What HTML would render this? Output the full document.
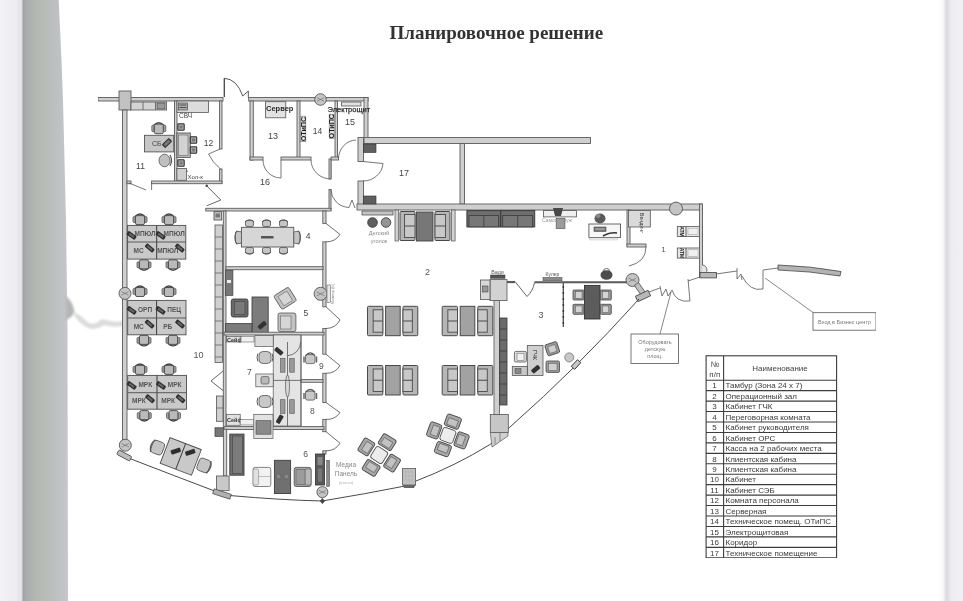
<!DOCTYPE html>
<html><head><meta charset="utf-8"><style>
html,body{margin:0;padding:0;}
body{width:963px;height:601px;overflow:hidden;position:relative;background:#fff;font-family:"Liberation Sans",sans-serif;}
#bg{position:absolute;left:0;top:0;will-change:transform;}
</style></head><body>
<svg id="bg" width="963" height="601" viewBox="0 0 963 601">
<defs>
<linearGradient id="band" x1="0" x2="1" y1="0" y2="0">
<stop offset="0" stop-color="#9e9ea2"/>
<stop offset="0.08" stop-color="#a9acb0"/>
<stop offset="0.3" stop-color="#b3b8b0"/>
<stop offset="0.55" stop-color="#b9bdba"/>
<stop offset="0.85" stop-color="#c0c2c6"/>
<stop offset="1" stop-color="#c6c7cc"/>
</linearGradient>
<linearGradient id="lstrip" x1="0" x2="1" y1="0" y2="0">
<stop offset="0" stop-color="#f2f2f6"/>
<stop offset="0.7" stop-color="#ececf1"/>
<stop offset="1" stop-color="#dedee4"/>
</linearGradient>
<linearGradient id="rstrip" x1="0" x2="1" y1="0" y2="0">
<stop offset="0" stop-color="#ffffff"/>
<stop offset="0.2" stop-color="#f8f8fa"/>
<stop offset="0.3" stop-color="#e2e2e8"/>
<stop offset="0.36" stop-color="#d8d8de"/>
<stop offset="0.46" stop-color="#e6e6ea"/>
<stop offset="0.56" stop-color="#eeeef2"/>
<stop offset="1" stop-color="#f0f0f4"/>
</linearGradient>
<filter id="soft" x="0" y="0" width="100%" height="100%"><feGaussianBlur stdDeviation="0.35"/></filter>
<filter id="blur1" x="-20%" y="-50%" width="140%" height="200%"><feGaussianBlur stdDeviation="1.2"/></filter>
</defs>
<rect x="0" y="0" width="963" height="601" fill="#ffffff"/>
<rect x="0" y="0" width="23" height="601" fill="url(#lstrip)"/>
<polygon points="22.5,0 58.7,0 61.5,60 63,100 66,220 67.5,330 68,601 22.5,601" fill="url(#band)"/>
<rect x="938" y="0" width="25" height="601" fill="url(#rstrip)"/>
<path d="M66,296 Q74,303 74.5,313 Q71,318 66,320 Z" fill="#b4b6b6" filter="url(#blur1)"/>
<path d="M73,312 Q80,314 86,321 Q92,326 98,322 Q101,318 106,320 Q115,323 123,321 L123,326 Q112,328 104,325 Q99,329 91,329 Q82,326 76,318 Z" fill="#dcdcdc" filter="url(#blur1)"/>
<g filter="url(#soft)">
<text x="496.3" y="38.7" font-family="Liberation Serif" font-size="19" fill="#333333" font-weight="bold" text-anchor="middle" >Планировочное решение</text>
<rect x="98" y="97.5" width="125" height="3.5" fill="#cfcfcf" stroke="#5c5c5c" stroke-width="0.9"/>
<rect x="248.7" y="97.5" width="119.30000000000001" height="3.5" fill="#cfcfcf" stroke="#5c5c5c" stroke-width="0.9"/>
<rect x="119" y="91" width="12" height="19" fill="#c2c2c2" stroke="#5c5c5c" stroke-width="0.9"/>
<rect x="122.5" y="110" width="4.5" height="330" fill="#cfcfcf" stroke="#5c5c5c" stroke-width="0.9"/>
<line x1="224.3" y1="97" x2="224.3" y2="78.3" stroke="#444" stroke-width="1.3" />
<path d="M224.3,78.3 Q237,79 242.7,96 L248.3,91 L248.3,97.5" stroke="#444" stroke-width="0.9" fill="none" />
<rect x="174.5" y="101" width="2.5" height="82" fill="#cfcfcf" stroke="#5c5c5c" stroke-width="0.9"/>
<rect x="219.6" y="101" width="2.4000000000000057" height="48" fill="#cfcfcf" stroke="#5c5c5c" stroke-width="0.9"/>
<rect x="219.6" y="169" width="2.4000000000000057" height="14" fill="#cfcfcf" stroke="#5c5c5c" stroke-width="0.9"/>
<path d="M220,149 L208.5,154 Q212,162 221,169.5" stroke="#555" stroke-width="0.8" fill="none" />
<rect x="151.6" y="181" width="70.4" height="2.6999999999999886" fill="#cfcfcf" stroke="#5c5c5c" stroke-width="0.9"/>
<rect x="127" y="181" width="4" height="2.6999999999999886" fill="#cfcfcf" stroke="#5c5c5c" stroke-width="0.9"/>
<path d="M129,183 L146,190 M151.6,183 L151.6,190" stroke="#555" stroke-width="0.8" fill="none" />
<rect x="250" y="101" width="3.3000000000000114" height="59" fill="#cfcfcf" stroke="#5c5c5c" stroke-width="0.9"/>
<rect x="297" y="101" width="3" height="58" fill="#cfcfcf" stroke="#5c5c5c" stroke-width="0.9"/>
<rect x="335" y="101" width="2.5" height="58" fill="#cfcfcf" stroke="#5c5c5c" stroke-width="0.9"/>
<rect x="364" y="97.5" width="4" height="45.5" fill="#cfcfcf" stroke="#5c5c5c" stroke-width="0.9"/>
<rect x="250" y="157" width="13" height="3" fill="#cfcfcf" stroke="#5c5c5c" stroke-width="0.9"/>
<rect x="281" y="157" width="30" height="3" fill="#cfcfcf" stroke="#5c5c5c" stroke-width="0.9"/>
<rect x="331" y="157" width="7.5" height="3" fill="#cfcfcf" stroke="#5c5c5c" stroke-width="0.9"/>
<line x1="281" y1="160" x2="281" y2="178" stroke="#555" stroke-width="0.8" />
<path d="M263,160 A18,18 0 0 0 281,178" stroke="#555" stroke-width="0.8" fill="none" />
<line x1="331" y1="160" x2="331" y2="179" stroke="#555" stroke-width="0.8" />
<path d="M311,160 A20,19 0 0 0 331,179" stroke="#555" stroke-width="0.8" fill="none" />
<path d="M338.5,159 A18,19 0 0 1 356,140" stroke="#555" stroke-width="0.8" fill="none" />
<circle cx="320.5" cy="99.5" r="5.8" fill="#c4c4c4" stroke="#555" stroke-width="0.9"/>
<path d="M317.02,97.76 L323.98,101.24 M317.02,101.24 L323.98,97.76" stroke="#666" stroke-width="0.6"/>
<rect x="265.6" y="101.7" width="20.2" height="16.1" fill="#e2e2e2" stroke="#555" stroke-width="0.8" />
<text x="266" y="111" font-family="Liberation Sans" font-size="7.5" fill="#2a2a2a" font-weight="bold" text-anchor="start" >Сервер</text>
<rect x="341.6" y="102" width="19.4" height="4" fill="#e0e0e0" stroke="#555" stroke-width="0.8" />
<text x="327.6" y="112" font-family="Liberation Sans" font-size="7.5" fill="#2a2a2a" font-weight="normal" text-anchor="start" stroke="#2a2a2a" stroke-width="0.25">Электрощит</text>
<text x="273" y="139" font-family="Liberation Sans" font-size="9" fill="#444" font-weight="normal" text-anchor="middle" >13</text>
<text x="317.5" y="134.2" font-family="Liberation Sans" font-size="8.5" fill="#444" font-weight="normal" text-anchor="middle" >14</text>
<text x="350" y="125" font-family="Liberation Sans" font-size="9" fill="#444" font-weight="normal" text-anchor="middle" >15</text>
<text x="265" y="185" font-family="Liberation Sans" font-size="9" fill="#444" font-weight="normal" text-anchor="middle" >16</text>
<rect x="300.4" y="116.2" width="5.4" height="25.5" fill="#e2e2e2" stroke="#777" stroke-width="0.6" />
<text x="303.1" y="129" font-family="Liberation Sans" font-size="7.2" fill="#1e1e1e" font-weight="bold" text-anchor="middle" dominant-baseline="central" transform="rotate(-90 303.1 129)">ОТиПС</text>
<rect x="329.2" y="114.2" width="5" height="24.1" fill="#e2e2e2" stroke="#777" stroke-width="0.6" />
<text x="331.7" y="126.2" font-family="Liberation Sans" font-size="7.2" fill="#1e1e1e" font-weight="bold" text-anchor="middle" dominant-baseline="central" transform="rotate(-90 331.7 126.2)">ОТиПС</text>
<rect x="329" y="159" width="2" height="20" fill="#cfcfcf" stroke="#5c5c5c" stroke-width="0.9"/>
<rect x="329" y="189.5" width="2" height="20.5" fill="#cfcfcf" stroke="#5c5c5c" stroke-width="0.9"/>
<path d="M331,189.5 A19,18 0 0 0 349,207.5" stroke="#555" stroke-width="0.8" fill="none" />
<path d="M349,207.5 L352,200 L355,208" stroke="#555" stroke-width="0.8" fill="none" />
<rect x="364" y="137.5" width="226.5" height="6.0" fill="#cfcfcf" stroke="#5c5c5c" stroke-width="0.9"/>
<rect x="358" y="137.5" width="5.5" height="24.0" fill="#cfcfcf" stroke="#5c5c5c" stroke-width="0.9"/>
<rect x="358" y="181" width="5.5" height="27" fill="#cfcfcf" stroke="#5c5c5c" stroke-width="0.9"/>
<line x1="363" y1="161.5" x2="383" y2="163.5" stroke="#555" stroke-width="0.8" />
<path d="M383,163.5 A20,19 0 0 1 363,181" stroke="#555" stroke-width="0.8" fill="none" />
<rect x="460" y="143.5" width="4.5" height="60.5" fill="#cfcfcf" stroke="#5c5c5c" stroke-width="0.9"/>
<rect x="357" y="204" width="345" height="6" fill="#cfcfcf" stroke="#5c5c5c" stroke-width="0.9"/>
<rect x="363.5" y="144" width="12.5" height="8.5" fill="#5e5e5e" stroke="#333" stroke-width="0.6" />
<rect x="363.5" y="196" width="12.5" height="8" fill="#5e5e5e" stroke="#333" stroke-width="0.6" />
<text x="404" y="176" font-family="Liberation Sans" font-size="9" fill="#444" font-weight="normal" text-anchor="middle" >17</text>
<rect x="699.5" y="204" width="3.0" height="73" fill="#cfcfcf" stroke="#5c5c5c" stroke-width="0.9"/>
<rect x="627" y="210" width="3" height="36" fill="#cfcfcf" stroke="#5c5c5c" stroke-width="0.9"/>
<rect x="627" y="244" width="19" height="3" fill="#cfcfcf" stroke="#5c5c5c" stroke-width="0.9"/>
<path d="M646,247 Q646,262 629,266" stroke="#555" stroke-width="0.8" fill="none" />
<circle cx="676" cy="208.6" r="6.5" fill="#c4c4c4" stroke="#555" stroke-width="0.9"/>
<rect x="628.6" y="210.5" width="21.7" height="16.5" fill="#dadada" stroke="#555" stroke-width="0.8" />
<text x="641.5" y="223" font-family="Liberation Sans" font-size="5.3" fill="#333" font-weight="normal" text-anchor="middle" dominant-baseline="central" transform="rotate(90 641.5 223)">Вендинг</text>
<rect x="677.3" y="226.4" width="22.3" height="10.1" fill="#e6e6e6" stroke="#555" stroke-width="0.8" />
<line x1="686" y1="226.4" x2="686" y2="236.5" stroke="#444" stroke-width="0.8" />
<rect x="688" y="228.20000000000002" width="10" height="6.5" fill="#f0f0f0" stroke="#999" stroke-width="0.5" />
<text x="681.8" y="231.45000000000002" font-family="Liberation Sans" font-size="5" fill="#222" font-weight="bold" text-anchor="middle" dominant-baseline="central" transform="rotate(90 681.8 231.45000000000002)">ATM</text>
<rect x="677.3" y="248" width="22.3" height="10.1" fill="#e6e6e6" stroke="#555" stroke-width="0.8" />
<line x1="686" y1="248" x2="686" y2="258.1" stroke="#444" stroke-width="0.8" />
<rect x="688" y="249.8" width="10" height="6.5" fill="#f0f0f0" stroke="#999" stroke-width="0.5" />
<text x="681.8" y="253.05" font-family="Liberation Sans" font-size="5" fill="#222" font-weight="bold" text-anchor="middle" dominant-baseline="central" transform="rotate(90 681.8 253.05)">ATM</text>
<text x="663.5" y="252" font-family="Liberation Sans" font-size="8" fill="#555" font-weight="normal" text-anchor="middle" >1</text>
<circle cx="632.5" cy="280" r="6.5" fill="#c4c4c4" stroke="#555" stroke-width="0.9"/>
<path d="M628.6,278.05 L636.4,281.95 M628.6,281.95 L636.4,278.05" stroke="#666" stroke-width="0.6"/>
<line x1="507" y1="282.2" x2="515" y2="282.2" stroke="#5a5a5a" stroke-width="1.9" />
<line x1="534.5" y1="282.2" x2="627" y2="282.2" stroke="#5a5a5a" stroke-width="1.9" />
<g transform="rotate(55 640 290)"><rect x="633" y="287" width="14" height="5" fill="#c0c0c0" stroke="#555" stroke-width="0.8"/></g>
<g transform="rotate(-25 643 296)"><rect x="636" y="293" width="14" height="6" fill="#b8b8b8" stroke="#444" stroke-width="0.8"/></g>
<line x1="649" y1="292" x2="660" y2="288" stroke="#555" stroke-width="0.8" />
<path d="M660,286 L662,296 L666,289 L668,296 L672,290" stroke="#555" stroke-width="0.8" fill="none" />
<path d="M672,290 Q676,303 690,301 L688,279" stroke="#555" stroke-width="0.8" fill="none" />
<line x1="688" y1="281" x2="700" y2="277" stroke="#555" stroke-width="0.8" />
<path d="M702,265 A5,5 0 0 1 702,275" stroke="#555" stroke-width="0.8" fill="#e6e6e6" />
<rect x="700" y="272.4" width="16.5" height="5.5" fill="#b8b8b8" stroke="#444" stroke-width="0.8" />
<line x1="716" y1="274" x2="737" y2="271" stroke="#555" stroke-width="0.8" />
<path d="M737,268 L737,279 L741,274 L742,280" stroke="#555" stroke-width="0.8" fill="none" />
<path d="M742,276 Q750,292 763,289 L763,270" stroke="#555" stroke-width="0.8" fill="none" />
<line x1="763" y1="270" x2="778" y2="268" stroke="#555" stroke-width="0.8" />
<path d="M778,265 Q810,266 841,271.5 L840,276 Q810,271 778,270 Z" stroke="#444" stroke-width="0.8" fill="#b4b4b4" />
<line x1="765" y1="278" x2="813" y2="312.5" stroke="#555" stroke-width="0.7" />
<rect x="813" y="312.7" width="63" height="17.5" fill="#fff" stroke="#555" stroke-width="0.8" />
<text x="844.5" y="324" font-family="Liberation Sans" font-size="5.5" fill="#777" font-weight="normal" text-anchor="middle" >Вход в Бизнес центр</text>
<line x1="671" y1="292" x2="660" y2="334" stroke="#555" stroke-width="0.7" />
<rect x="631" y="334" width="47.5" height="29.5" fill="#fff" stroke="#555" stroke-width="0.8" />
<text x="655" y="344" font-family="Liberation Sans" font-size="5.5" fill="#777" font-weight="normal" text-anchor="middle" >Оборудовать</text>
<text x="655" y="351" font-family="Liberation Sans" font-size="5.5" fill="#777" font-weight="normal" text-anchor="middle" >детскую</text>
<text x="655" y="358" font-family="Liberation Sans" font-size="5.5" fill="#777" font-weight="normal" text-anchor="middle" >площ.</text>
<path d="M118.7,452.3 L131,459 Q175,476 214.6,491 L229.6,495.5 Q280,500 322,501 Q365,494 405,486 L416,481 Q455,466 490,444.5 L510,427 Q578,367 639,299" stroke="#4a4a4a" stroke-width="1.0" fill="none" />
<rect x="131" y="102" width="35.6" height="8" fill="#d4d4d4" stroke="#555" stroke-width="0.8" />
<line x1="143" y1="102" x2="143" y2="110" stroke="#555" stroke-width="0.8" />
<line x1="155.5" y1="102" x2="155.5" y2="110" stroke="#555" stroke-width="0.8" />
<rect x="157" y="103" width="8" height="6" fill="#9a9a9a" stroke="#333" stroke-width="0.6" />
<rect x="177" y="101" width="31.5" height="11.4" fill="#dcdcdc" stroke="#555" stroke-width="0.8" />
<rect x="178.5" y="103" width="9" height="7" fill="#b0b0b0" stroke="#333" stroke-width="0.6" />
<line x1="179.5" y1="105" x2="186.5" y2="105" stroke="#333" stroke-width="0.8" />
<line x1="179.5" y1="107.5" x2="186.5" y2="107.5" stroke="#333" stroke-width="0.8" />
<text x="179" y="118" font-family="Liberation Sans" font-size="6.5" fill="#444" font-weight="normal" text-anchor="start" >СВЧ</text>
<rect x="176.9" y="133" width="13.4" height="24.4" fill="#bdbdbd" stroke="#555" stroke-width="0.9" />
<rect x="178.5" y="135" width="9.5" height="20.4" fill="#d2d2d2" stroke="#666" stroke-width="0.6" />
<rect x="177.8" y="123.8" width="6.4" height="6.4" fill="#a6a6a6" stroke="#333" stroke-width="1.1" rx="0.8"/>
<rect x="179.5" y="125.5" width="3" height="3" fill="#7a7a7a" stroke="none" stroke-width="0" />
<rect x="190.3" y="136.8" width="6.4" height="6.4" fill="#a6a6a6" stroke="#333" stroke-width="1.1" rx="0.8"/>
<rect x="192.0" y="138.5" width="3" height="3" fill="#7a7a7a" stroke="none" stroke-width="0" />
<rect x="190.3" y="146.8" width="6.4" height="6.4" fill="#a6a6a6" stroke="#333" stroke-width="1.1" rx="0.8"/>
<rect x="192.0" y="148.5" width="3" height="3" fill="#7a7a7a" stroke="none" stroke-width="0" />
<rect x="177.8" y="159.8" width="6.4" height="6.4" fill="#a6a6a6" stroke="#333" stroke-width="1.1" rx="0.8"/>
<rect x="179.5" y="161.5" width="3" height="3" fill="#7a7a7a" stroke="none" stroke-width="0" />
<rect x="144.5" y="135.3" width="29.2" height="16.6" fill="#c6c6c6" stroke="#555" stroke-width="0.9" />
<text x="152" y="146" font-family="Liberation Sans" font-size="7" fill="#444" font-weight="normal" text-anchor="start" >СБ</text>
<g transform="rotate(-45 167 143)"><rect x="162" y="140.5" width="10" height="5" rx="1" fill="#333"/><rect x="163.5" y="141.5" width="7" height="3" fill="#777"/></g>
<path d="M153.8,125.2 Q158.8,120.2 163.8,125.2" stroke="#444" stroke-width="1.4" fill="none" />
<rect x="154.3" y="124.2" width="9" height="9.5" fill="#bababa" stroke="#444" stroke-width="0.9" rx="1.5"/>
<rect x="151.8" y="125.2" width="2.2" height="6.5" fill="#a8a8a8" stroke="#444" stroke-width="0.7" rx="1"/>
<rect x="163.60000000000002" y="125.2" width="2.2" height="6.5" fill="#a8a8a8" stroke="#444" stroke-width="0.7" rx="1"/>
<ellipse cx="164.5" cy="160.5" rx="5.5" ry="6.3" fill="#c0c0c0" stroke="#555" stroke-width="0.8"/>
<path d="M170,155 Q173,160.5 170,166" stroke="#555" stroke-width="1.2" fill="none" />
<text x="140.5" y="169.3" font-family="Liberation Sans" font-size="8.5" fill="#444" font-weight="normal" text-anchor="middle" >11</text>
<text x="208.5" y="145.6" font-family="Liberation Sans" font-size="8.5" fill="#444" font-weight="normal" text-anchor="middle" >12</text>
<rect x="176.9" y="168.5" width="9.5" height="11.8" fill="#d0d0d0" stroke="#555" stroke-width="0.8" />
<line x1="186.4" y1="170" x2="188" y2="172" stroke="#555" stroke-width="0.7" />
<text x="187.5" y="178.5" font-family="Liberation Sans" font-size="6" fill="#444" font-weight="normal" text-anchor="start" >Хол-к</text>
<path d="M206.7,185.8 L220.8,200 L206.7,205.8" stroke="#555" stroke-width="0.9" fill="none" />
<circle cx="206.7" cy="185.8" r="1.2" fill="#444" stroke="none" stroke-width="0"/>
<rect x="205.8" y="208.3" width="125.19999999999999" height="2.6999999999999886" fill="#cfcfcf" stroke="#5c5c5c" stroke-width="0.9"/>
<rect x="223.3" y="211" width="2.6999999999999886" height="222" fill="#cfcfcf" stroke="#5c5c5c" stroke-width="0.9"/>
<rect x="214" y="211.7" width="7.7" height="8.3" fill="#c8c8c8" stroke="#444" stroke-width="0.8" />
<rect x="215.5" y="213.5" width="4.5" height="4" fill="#777" stroke="none" stroke-width="0" />
<rect x="215" y="225" width="7.5" height="137.4" fill="#d0d0d0" stroke="#555" stroke-width="0.8" />
<line x1="215" y1="237" x2="222.5" y2="237" stroke="#555" stroke-width="0.7" />
<line x1="215" y1="249" x2="222.5" y2="249" stroke="#555" stroke-width="0.7" />
<line x1="215" y1="261" x2="222.5" y2="261" stroke="#555" stroke-width="0.7" />
<line x1="215" y1="273" x2="222.5" y2="273" stroke="#555" stroke-width="0.7" />
<line x1="215" y1="285" x2="222.5" y2="285" stroke="#555" stroke-width="0.7" />
<line x1="215" y1="297" x2="222.5" y2="297" stroke="#555" stroke-width="0.7" />
<line x1="215" y1="309" x2="222.5" y2="309" stroke="#555" stroke-width="0.7" />
<line x1="215" y1="321" x2="222.5" y2="321" stroke="#555" stroke-width="0.7" />
<line x1="215" y1="333" x2="222.5" y2="333" stroke="#555" stroke-width="0.7" />
<line x1="215" y1="345" x2="222.5" y2="345" stroke="#555" stroke-width="0.7" />
<line x1="215" y1="357" x2="222.5" y2="357" stroke="#555" stroke-width="0.7" />
<rect x="216.5" y="396" width="6.5" height="25.3" fill="#d0d0d0" stroke="#555" stroke-width="0.8" />
<line x1="216.5" y1="408" x2="223" y2="408" stroke="#555" stroke-width="0.7" />
<rect x="215" y="427.8" width="8.4" height="8.5" fill="#777" stroke="#333" stroke-width="0.7" />
<path d="M223,371 L211,381 L223,390.5" stroke="#555" stroke-width="0.9" fill="none" />
<rect x="127.6" y="225.4" width="58.20000000000002" height="33.70000000000002" fill="#c9c9c9" stroke="#4e4e4e" stroke-width="0.9" />
<line x1="156.7" y1="225.4" x2="156.7" y2="259.1" stroke="#3c3c3c" stroke-width="1" />
<line x1="127.6" y1="242" x2="185.8" y2="242" stroke="#4e4e4e" stroke-width="0.9" />
<text x="145.06" y="236.2" font-family="Liberation Sans" font-size="6.5" fill="#555" font-weight="bold" text-anchor="middle" >МПЮЛ</text>
<text x="174.16" y="236.2" font-family="Liberation Sans" font-size="6.5" fill="#555" font-weight="bold" text-anchor="middle" >МПЮЛ</text>
<text x="138.658" y="253.05" font-family="Liberation Sans" font-size="6.5" fill="#555" font-weight="bold" text-anchor="middle" >МС</text>
<text x="167.758" y="253.05" font-family="Liberation Sans" font-size="6.5" fill="#555" font-weight="bold" text-anchor="middle" >МПЮЛ</text>
<g transform="rotate(35 131.6 235.4)"><rect x="126.6" y="233.20000000000002" width="10" height="4.4" rx="1" fill="#2f2f2f"/><rect x="128.6" y="234.4" width="6" height="2" fill="#666"/></g>
<g transform="rotate(35 160.7 235.4)"><rect x="155.7" y="233.20000000000002" width="10" height="4.4" rx="1" fill="#2f2f2f"/><rect x="157.7" y="234.4" width="6" height="2" fill="#666"/></g>
<g transform="rotate(40 149.7 248)"><rect x="144.7" y="245.8" width="10" height="4.4" rx="1" fill="#2f2f2f"/><rect x="146.7" y="247" width="6" height="2" fill="#666"/></g>
<g transform="rotate(40 179.8 248)"><rect x="174.8" y="245.8" width="10" height="4.4" rx="1" fill="#2f2f2f"/><rect x="176.8" y="247" width="6" height="2" fill="#666"/></g>
<path d="M135,216.6 Q140.0,211.6 145,216.6" stroke="#444" stroke-width="1.4" fill="none" />
<rect x="135.5" y="215.6" width="9" height="9" fill="#bababa" stroke="#444" stroke-width="0.9" rx="1.5"/>
<rect x="133" y="216.6" width="2.2" height="6" fill="#a8a8a8" stroke="#444" stroke-width="0.7" rx="1"/>
<rect x="144.8" y="216.6" width="2.2" height="6" fill="#a8a8a8" stroke="#444" stroke-width="0.7" rx="1"/>
<path d="M164,216.6 Q169.0,211.6 174,216.6" stroke="#444" stroke-width="1.4" fill="none" />
<rect x="164.5" y="215.6" width="9" height="9" fill="#bababa" stroke="#444" stroke-width="0.9" rx="1.5"/>
<rect x="162" y="216.6" width="2.2" height="6" fill="#a8a8a8" stroke="#444" stroke-width="0.7" rx="1"/>
<rect x="173.8" y="216.6" width="2.2" height="6" fill="#a8a8a8" stroke="#444" stroke-width="0.7" rx="1"/>
<path d="M139,267.8 Q144.0,272.8 149,267.8" stroke="#444" stroke-width="1.4" fill="none" />
<rect x="139.5" y="259.8" width="9" height="9" fill="#bababa" stroke="#444" stroke-width="0.9" rx="1.5"/>
<rect x="137" y="261.8" width="2.2" height="6" fill="#a8a8a8" stroke="#444" stroke-width="0.7" rx="1"/>
<rect x="148.8" y="261.8" width="2.2" height="6" fill="#a8a8a8" stroke="#444" stroke-width="0.7" rx="1"/>
<path d="M168,267.8 Q173.0,272.8 178,267.8" stroke="#444" stroke-width="1.4" fill="none" />
<rect x="168.5" y="259.8" width="9" height="9" fill="#bababa" stroke="#444" stroke-width="0.9" rx="1.5"/>
<rect x="166" y="261.8" width="2.2" height="6" fill="#a8a8a8" stroke="#444" stroke-width="0.7" rx="1"/>
<rect x="177.8" y="261.8" width="2.2" height="6" fill="#a8a8a8" stroke="#444" stroke-width="0.7" rx="1"/>
<rect x="127.7" y="300.4" width="58.3" height="34.400000000000034" fill="#c9c9c9" stroke="#4e4e4e" stroke-width="0.9" />
<line x1="156.6" y1="300.4" x2="156.6" y2="334.8" stroke="#3c3c3c" stroke-width="1" />
<line x1="127.7" y1="318" x2="186" y2="318" stroke="#4e4e4e" stroke-width="0.9" />
<text x="145.04" y="311.7" font-family="Liberation Sans" font-size="6.5" fill="#555" font-weight="bold" text-anchor="middle" >ОРП</text>
<text x="174.24" y="311.7" font-family="Liberation Sans" font-size="6.5" fill="#555" font-weight="bold" text-anchor="middle" >ПЕЦ</text>
<text x="138.682" y="328.9" font-family="Liberation Sans" font-size="6.5" fill="#555" font-weight="bold" text-anchor="middle" >МС</text>
<text x="167.772" y="328.9" font-family="Liberation Sans" font-size="6.5" fill="#555" font-weight="bold" text-anchor="middle" >РБ</text>
<g transform="rotate(35 131.7 310.4)"><rect x="126.69999999999999" y="308.2" width="10" height="4.4" rx="1" fill="#2f2f2f"/><rect x="128.7" y="309.4" width="6" height="2" fill="#666"/></g>
<g transform="rotate(35 160.6 310.4)"><rect x="155.6" y="308.2" width="10" height="4.4" rx="1" fill="#2f2f2f"/><rect x="157.6" y="309.4" width="6" height="2" fill="#666"/></g>
<g transform="rotate(40 149.6 324)"><rect x="144.6" y="321.8" width="10" height="4.4" rx="1" fill="#2f2f2f"/><rect x="146.6" y="323" width="6" height="2" fill="#666"/></g>
<g transform="rotate(40 180 324)"><rect x="175" y="321.8" width="10" height="4.4" rx="1" fill="#2f2f2f"/><rect x="177" y="323" width="6" height="2" fill="#666"/></g>
<path d="M135,288.5 Q140.0,283.5 145,288.5" stroke="#444" stroke-width="1.4" fill="none" />
<rect x="135.5" y="287.5" width="9" height="9" fill="#bababa" stroke="#444" stroke-width="0.9" rx="1.5"/>
<rect x="133" y="288.5" width="2.2" height="6" fill="#a8a8a8" stroke="#444" stroke-width="0.7" rx="1"/>
<rect x="144.8" y="288.5" width="2.2" height="6" fill="#a8a8a8" stroke="#444" stroke-width="0.7" rx="1"/>
<path d="M164,288.5 Q169.0,283.5 174,288.5" stroke="#444" stroke-width="1.4" fill="none" />
<rect x="164.5" y="287.5" width="9" height="9" fill="#bababa" stroke="#444" stroke-width="0.9" rx="1.5"/>
<rect x="162" y="288.5" width="2.2" height="6" fill="#a8a8a8" stroke="#444" stroke-width="0.7" rx="1"/>
<rect x="173.8" y="288.5" width="2.2" height="6" fill="#a8a8a8" stroke="#444" stroke-width="0.7" rx="1"/>
<path d="M139,343.4 Q144.0,348.4 149,343.4" stroke="#444" stroke-width="1.4" fill="none" />
<rect x="139.5" y="335.4" width="9" height="9" fill="#bababa" stroke="#444" stroke-width="0.9" rx="1.5"/>
<rect x="137" y="337.4" width="2.2" height="6" fill="#a8a8a8" stroke="#444" stroke-width="0.7" rx="1"/>
<rect x="148.8" y="337.4" width="2.2" height="6" fill="#a8a8a8" stroke="#444" stroke-width="0.7" rx="1"/>
<path d="M168,343.4 Q173.0,348.4 178,343.4" stroke="#444" stroke-width="1.4" fill="none" />
<rect x="168.5" y="335.4" width="9" height="9" fill="#bababa" stroke="#444" stroke-width="0.9" rx="1.5"/>
<rect x="166" y="337.4" width="2.2" height="6" fill="#a8a8a8" stroke="#444" stroke-width="0.7" rx="1"/>
<rect x="177.8" y="337.4" width="2.2" height="6" fill="#a8a8a8" stroke="#444" stroke-width="0.7" rx="1"/>
<rect x="127.7" y="375.4" width="58.8" height="33.80000000000001" fill="#c9c9c9" stroke="#4e4e4e" stroke-width="0.9" />
<line x1="157" y1="375.4" x2="157" y2="409.2" stroke="#3c3c3c" stroke-width="1" />
<line x1="127.7" y1="392.7" x2="186.5" y2="392.7" stroke="#4e4e4e" stroke-width="0.9" />
<text x="145.28" y="386.54999999999995" font-family="Liberation Sans" font-size="6.5" fill="#555" font-weight="bold" text-anchor="middle" >МРК</text>
<text x="174.7" y="386.54999999999995" font-family="Liberation Sans" font-size="6.5" fill="#555" font-weight="bold" text-anchor="middle" >МРК</text>
<text x="138.834" y="403.45" font-family="Liberation Sans" font-size="6.5" fill="#555" font-weight="bold" text-anchor="middle" >МРК</text>
<text x="168.21" y="403.45" font-family="Liberation Sans" font-size="6.5" fill="#555" font-weight="bold" text-anchor="middle" >МРК</text>
<g transform="rotate(35 131.7 385.4)"><rect x="126.69999999999999" y="383.2" width="10" height="4.4" rx="1" fill="#2f2f2f"/><rect x="128.7" y="384.4" width="6" height="2" fill="#666"/></g>
<g transform="rotate(35 161 385.4)"><rect x="156" y="383.2" width="10" height="4.4" rx="1" fill="#2f2f2f"/><rect x="158" y="384.4" width="6" height="2" fill="#666"/></g>
<g transform="rotate(40 150 398.7)"><rect x="145" y="396.5" width="10" height="4.4" rx="1" fill="#2f2f2f"/><rect x="147" y="397.7" width="6" height="2" fill="#666"/></g>
<g transform="rotate(40 180.5 398.7)"><rect x="175.5" y="396.5" width="10" height="4.4" rx="1" fill="#2f2f2f"/><rect x="177.5" y="397.7" width="6" height="2" fill="#666"/></g>
<path d="M135,366.4 Q140.0,361.4 145,366.4" stroke="#444" stroke-width="1.4" fill="none" />
<rect x="135.5" y="365.4" width="9" height="9" fill="#bababa" stroke="#444" stroke-width="0.9" rx="1.5"/>
<rect x="133" y="366.4" width="2.2" height="6" fill="#a8a8a8" stroke="#444" stroke-width="0.7" rx="1"/>
<rect x="144.8" y="366.4" width="2.2" height="6" fill="#a8a8a8" stroke="#444" stroke-width="0.7" rx="1"/>
<path d="M164,366.4 Q169.0,361.4 174,366.4" stroke="#444" stroke-width="1.4" fill="none" />
<rect x="164.5" y="365.4" width="9" height="9" fill="#bababa" stroke="#444" stroke-width="0.9" rx="1.5"/>
<rect x="162" y="366.4" width="2.2" height="6" fill="#a8a8a8" stroke="#444" stroke-width="0.7" rx="1"/>
<rect x="173.8" y="366.4" width="2.2" height="6" fill="#a8a8a8" stroke="#444" stroke-width="0.7" rx="1"/>
<path d="M139.3,418.6 Q144.3,423.6 149.3,418.6" stroke="#444" stroke-width="1.4" fill="none" />
<rect x="139.8" y="410.6" width="9" height="9" fill="#bababa" stroke="#444" stroke-width="0.9" rx="1.5"/>
<rect x="137.3" y="412.6" width="2.2" height="6" fill="#a8a8a8" stroke="#444" stroke-width="0.7" rx="1"/>
<rect x="149.10000000000002" y="412.6" width="2.2" height="6" fill="#a8a8a8" stroke="#444" stroke-width="0.7" rx="1"/>
<path d="M168.5,418.6 Q173.5,423.6 178.5,418.6" stroke="#444" stroke-width="1.4" fill="none" />
<rect x="169.0" y="410.6" width="9" height="9" fill="#bababa" stroke="#444" stroke-width="0.9" rx="1.5"/>
<rect x="166.5" y="412.6" width="2.2" height="6" fill="#a8a8a8" stroke="#444" stroke-width="0.7" rx="1"/>
<rect x="178.3" y="412.6" width="2.2" height="6" fill="#a8a8a8" stroke="#444" stroke-width="0.7" rx="1"/>
<circle cx="125" cy="293.4" r="6" fill="#c4c4c4" stroke="#555" stroke-width="0.9"/>
<path d="M121.4,291.59999999999997 L128.6,295.2 M121.4,295.2 L128.6,291.59999999999997" stroke="#666" stroke-width="0.6"/>
<circle cx="125.3" cy="445.2" r="6" fill="#c4c4c4" stroke="#555" stroke-width="0.9"/>
<path d="M121.7,443.4 L128.9,447.0 M121.7,447.0 L128.9,443.4" stroke="#666" stroke-width="0.6"/>
<text x="198.5" y="358" font-family="Liberation Sans" font-size="9" fill="#555" font-weight="normal" text-anchor="middle" >10</text>
<g transform="rotate(21 180.7 456.4)"><rect x="164" y="442.7" width="33.5" height="27.4" fill="#c9c9c9" stroke="#4e4e4e" stroke-width="0.9"/><line x1="180.7" y1="442.7" x2="180.7" y2="470.1" stroke="#3c3c3c" stroke-width="1"/><rect x="169" y="451" width="10" height="4.5" rx="1" fill="#2f2f2f" transform="rotate(-40 174 453)"/><rect x="183" y="447" width="10" height="4.5" rx="1" fill="#2f2f2f" transform="rotate(-40 188 449)"/><rect x="150" y="450" width="12" height="13" rx="3" fill="#c4c4c4" stroke="#555" stroke-width="0.8"/><path d="M151,450 Q147,456.5 151,463" stroke="#555" stroke-width="1.3" fill="none"/><rect x="199.5" y="450" width="12" height="13" rx="3" fill="#c4c4c4" stroke="#555" stroke-width="0.8"/><path d="M210.5,450 Q214.5,456.5 210.5,463" stroke="#555" stroke-width="1.3" fill="none"/></g>
<g transform="rotate(28 124.3 455.5)"><rect x="117" y="453" width="14.5" height="5" rx="1" fill="#bdbdbd" stroke="#444" stroke-width="0.8"/></g>
<rect x="322.8" y="211" width="3.1999999999999886" height="12.400000000000006" fill="#cfcfcf" stroke="#5c5c5c" stroke-width="0.9"/>
<rect x="322.8" y="241.8" width="3.1999999999999886" height="65.0" fill="#cfcfcf" stroke="#5c5c5c" stroke-width="0.9"/>
<rect x="322.8" y="328.5" width="3.1999999999999886" height="25.69999999999999" fill="#cfcfcf" stroke="#5c5c5c" stroke-width="0.9"/>
<rect x="322.8" y="373.3" width="3.1999999999999886" height="29.19999999999999" fill="#cfcfcf" stroke="#5c5c5c" stroke-width="0.9"/>
<rect x="322.8" y="419.4" width="3.1999999999999886" height="12.300000000000011" fill="#cfcfcf" stroke="#5c5c5c" stroke-width="0.9"/>
<rect x="322.8" y="450.8" width="3.1999999999999886" height="3.1999999999999886" fill="#cfcfcf" stroke="#5c5c5c" stroke-width="0.9"/>
<path d="M326,223.4 L340,234.44 A16,16 0 0 1 326,241.8" stroke="#555" stroke-width="0.85" fill="none" />
<path d="M326,306.8 L340,319.82 A16,16 0 0 1 326,328.5" stroke="#555" stroke-width="0.85" fill="none" />
<path d="M326,354.2 L340,365.66 A16,16 0 0 1 326,373.3" stroke="#555" stroke-width="0.85" fill="none" />
<path d="M326,402.5 L340,412.64 A16,16 0 0 1 326,419.4" stroke="#555" stroke-width="0.85" fill="none" />
<path d="M326,431.7 L340,443.16 A16,16 0 0 1 326,450.8" stroke="#555" stroke-width="0.85" fill="none" />
<circle cx="320.6" cy="293.8" r="6.5" fill="#c4c4c4" stroke="#555" stroke-width="0.9"/>
<path d="M316.70000000000005,291.85 L324.5,295.75 M316.70000000000005,295.75 L324.5,291.85" stroke="#666" stroke-width="0.6"/>
<rect x="327" y="285" width="3.3" height="17.5" fill="#e8e8e8" stroke="#666" stroke-width="0.6" />
<text x="333.5" y="304" font-family="Liberation Sans" font-size="3.5" fill="#777" font-weight="normal" text-anchor="start" transform="rotate(-90 333.5 304)">Монитор (tv)</text>
<rect x="226" y="266.7" width="97" height="3.0" fill="#cfcfcf" stroke="#5c5c5c" stroke-width="0.9"/>
<rect x="241.4" y="227.3" width="52.4" height="19.7" fill="#d6d6d6" stroke="#555" stroke-width="0.9" />
<rect x="261" y="236" width="12.5" height="2.5" fill="#555" stroke="none" stroke-width="0" />
<rect x="245.5" y="220.5" width="8" height="6" fill="#c4c4c4" stroke="#555" stroke-width="0.8" rx="1.5"/>
<path d="M245.0,222 Q249.5,217.5 254.0,222" stroke="#555" stroke-width="1" fill="none" />
<rect x="245.5" y="247.5" width="8" height="6" fill="#c4c4c4" stroke="#555" stroke-width="0.8" rx="1.5"/>
<path d="M245.0,252 Q249.5,256.5 254.0,252" stroke="#555" stroke-width="1" fill="none" />
<rect x="262.5" y="220.5" width="8" height="6" fill="#c4c4c4" stroke="#555" stroke-width="0.8" rx="1.5"/>
<path d="M262.0,222 Q266.5,217.5 271.0,222" stroke="#555" stroke-width="1" fill="none" />
<rect x="262.5" y="247.5" width="8" height="6" fill="#c4c4c4" stroke="#555" stroke-width="0.8" rx="1.5"/>
<path d="M262.0,252 Q266.5,256.5 271.0,252" stroke="#555" stroke-width="1" fill="none" />
<rect x="279.5" y="220.5" width="8" height="6" fill="#c4c4c4" stroke="#555" stroke-width="0.8" rx="1.5"/>
<path d="M279.0,222 Q283.5,217.5 288.0,222" stroke="#555" stroke-width="1" fill="none" />
<rect x="279.5" y="247.5" width="8" height="6" fill="#c4c4c4" stroke="#555" stroke-width="0.8" rx="1.5"/>
<path d="M279.0,252 Q283.5,256.5 288.0,252" stroke="#555" stroke-width="1" fill="none" />
<rect x="235.5" y="231.5" width="6" height="12" fill="#c4c4c4" stroke="#555" stroke-width="0.8" rx="1.5"/>
<path d="M237,230.5 Q232.5,237.5 237,244.5" stroke="#555" stroke-width="1" fill="none" />
<rect x="293.8" y="231.5" width="6" height="12" fill="#c4c4c4" stroke="#555" stroke-width="0.8" rx="1.5"/>
<path d="M298.3,230.5 Q302.8,237.5 298.3,244.5" stroke="#555" stroke-width="1" fill="none" />
<text x="308.2" y="238.5" font-family="Liberation Sans" font-size="8.5" fill="#444" font-weight="normal" text-anchor="middle" >4</text>
<rect x="225.6" y="270.3" width="7.3" height="25.1" fill="#777" stroke="#444" stroke-width="0.7" />
<rect x="227" y="280" width="4" height="3" fill="#eee" stroke="none" stroke-width="0" />
<rect x="231.3" y="299" width="16.7" height="18" fill="#6a6a6a" stroke="#3a3a3a" stroke-width="0.9" rx="2"/>
<rect x="234.5" y="301.5" width="10.5" height="13" fill="#7a7a7a" stroke="#444" stroke-width="0.6" />
<rect x="252" y="297" width="16.2" height="36" fill="#7c7c7c" stroke="#444" stroke-width="0.9" />
<rect x="225.6" y="323.6" width="26.4" height="8.6" fill="#7c7c7c" stroke="#444" stroke-width="0.9" />
<g transform="rotate(-40 262 325)"><rect x="257.5" y="323" width="9" height="4.5" rx="1" fill="#333"/></g>
<g transform="rotate(-32 285.2 298.3)"><rect x="276.5" y="290.3" width="17.4" height="16" rx="2" fill="#c2c2c2" stroke="#555" stroke-width="0.8"/><rect x="280" y="293" width="10.4" height="11" fill="#d6d6d6" stroke="#666" stroke-width="0.6"/></g>
<rect x="278" y="313" width="17.9" height="18.6" fill="#c2c2c2" stroke="#555" stroke-width="0.8" rx="2"/>
<rect x="280.5" y="316" width="10.5" height="13" fill="#d6d6d6" stroke="#666" stroke-width="0.6" />
<text x="305.9" y="315.5" font-family="Liberation Sans" font-size="8.5" fill="#444" font-weight="normal" text-anchor="middle" >5</text>
<rect x="224" y="332.2" width="100" height="2.8000000000000114" fill="#cfcfcf" stroke="#5c5c5c" stroke-width="0.9"/>
<rect x="273.2" y="335" width="27.8" height="91" fill="#e4e4e4" stroke="#555" stroke-width="0.7" />
<line x1="287.5" y1="342" x2="287.5" y2="426" stroke="#555" stroke-width="0.8" />
<ellipse cx="287.5" cy="386" rx="2" ry="11" fill="#d8d8d8" stroke="#555" stroke-width="0.7"/>
<line x1="273.2" y1="380.4" x2="323" y2="380.4" stroke="#555" stroke-width="0.8" />
<rect x="301" y="379.6" width="22" height="2.6999999999999886" fill="#cfcfcf" stroke="#5c5c5c" stroke-width="0.9"/>
<line x1="301" y1="335" x2="301" y2="426.6" stroke="#555" stroke-width="0.8" />
<path d="M300.7,342 A14,14 0 0 1 287.8,355.7" stroke="#555" stroke-width="0.8" fill="none" />
<g transform="rotate(40 279 351)"><rect x="274.5" y="349" width="9" height="4.5" rx="1" fill="#333"/></g>
<rect x="280.5" y="358.5" width="4.5" height="13.7" fill="#9a9a9a" stroke="#555" stroke-width="0.6" />
<rect x="289.7" y="358.5" width="4.5" height="13.7" fill="#9a9a9a" stroke="#555" stroke-width="0.6" />
<rect x="280.5" y="399.7" width="4.5" height="13.7" fill="#9a9a9a" stroke="#555" stroke-width="0.6" />
<rect x="289.7" y="399.7" width="4.5" height="13.7" fill="#9a9a9a" stroke="#555" stroke-width="0.6" />
<rect x="226.5" y="336.5" width="14.5" height="5.5" fill="#e0e0e0" stroke="#555" stroke-width="0.7" />
<text x="227" y="341.5" font-family="Liberation Sans" font-size="5.5" fill="#333" font-weight="bold" text-anchor="start" >Сейф</text>
<rect x="241" y="336.5" width="13" height="5.5" fill="#f0f0f0" stroke="#666" stroke-width="0.6" />
<rect x="254.9" y="335.6" width="18.3" height="11" fill="#dcdcdc" stroke="#555" stroke-width="0.7" />
<rect x="259" y="351.5" width="12" height="12" fill="#c8c8c8" stroke="#555" stroke-width="0.8" rx="4"/>
<path d="M258,353.5 Q256,357.5 258,361.5 M272,353.5 Q274,357.5 272,361.5" stroke="#555" stroke-width="1" fill="none" />
<rect x="259" y="395.5" width="12" height="12" fill="#c8c8c8" stroke="#555" stroke-width="0.8" rx="4"/>
<path d="M258,397.5 Q256,401.5 258,405.5 M272,397.5 Q274,401.5 272,405.5" stroke="#555" stroke-width="1" fill="none" />
<rect x="255.8" y="374" width="17.4" height="12.8" fill="#e2e2e2" stroke="#555" stroke-width="0.7" />
<rect x="261" y="376.5" width="8" height="7.5" fill="#b8b8b8" stroke="#555" stroke-width="0.7" rx="1.5"/>
<rect x="226.5" y="414.3" width="13.7" height="11" fill="#e0e0e0" stroke="#555" stroke-width="0.7" />
<text x="227" y="422" font-family="Liberation Sans" font-size="5.5" fill="#333" font-weight="bold" text-anchor="start" >Сейф</text>
<rect x="240.2" y="419.5" width="13.8" height="5.5" fill="#f0f0f0" stroke="#666" stroke-width="0.6" />
<g transform="rotate(-60 279.6 419)"><rect x="275" y="417" width="9" height="4.5" rx="1" fill="#333"/></g>
<text x="249.4" y="375" font-family="Liberation Sans" font-size="8.5" fill="#555" font-weight="normal" text-anchor="middle" >7</text>
<text x="321.3" y="369" font-family="Liberation Sans" font-size="8.5" fill="#555" font-weight="normal" text-anchor="middle" >9</text>
<text x="312.4" y="413.5" font-family="Liberation Sans" font-size="8.5" fill="#555" font-weight="normal" text-anchor="middle" >8</text>
<rect x="305.5" y="354.6" width="9.5" height="9" fill="#c8c8c8" stroke="#555" stroke-width="0.8" rx="2"/>
<path d="M305.5,355.6 Q310.2,350.1 315,355.6" stroke="#555" stroke-width="1.2" fill="none" />
<path d="M304,356.6 L304,362.6 M316.5,356.6 L316.5,362.6" stroke="#666" stroke-width="1.5" fill="none" />
<rect x="305.5" y="391.1" width="9.5" height="9" fill="#c8c8c8" stroke="#555" stroke-width="0.8" rx="2"/>
<path d="M305.5,392.1 Q310.2,386.6 315,392.1" stroke="#555" stroke-width="1.2" fill="none" />
<path d="M304,393.1 L304,399.1 M316.5,393.1 L316.5,399.1" stroke="#666" stroke-width="1.5" fill="none" />
<rect x="224" y="426.6" width="100" height="2.8999999999999773" fill="#cfcfcf" stroke="#5c5c5c" stroke-width="0.9"/>
<rect x="253.8" y="414.3" width="19.2" height="24.1" fill="#e2e2e2" stroke="#555" stroke-width="0.7" />
<rect x="256" y="420.7" width="15" height="13.5" fill="#8a8a8a" stroke="#444" stroke-width="0.6" />
<rect x="223.4" y="429.2" width="3.299999999999983" height="46.80000000000001" fill="#cfcfcf" stroke="#5c5c5c" stroke-width="0.9"/>
<rect x="216.4" y="476" width="12.7" height="14.7" fill="#c8c8c8" stroke="#555" stroke-width="0.8" />
<g transform="rotate(18 222 494)"><rect x="213" y="491.5" width="18" height="5" fill="#b0b0b0" stroke="#444" stroke-width="0.7"/></g>
<rect x="229.8" y="434.1" width="14.2" height="41.1" fill="#707070" stroke="#3c3c3c" stroke-width="0.9" />
<rect x="232.6" y="436" width="9.9" height="37.5" fill="#7c7c7c" stroke="#444" stroke-width="0.6" />
<rect x="274.4" y="460.3" width="16.2" height="33.2" fill="#707070" stroke="#3c3c3c" stroke-width="0.9" />
<circle cx="278.5" cy="476.5" r="2.5" fill="#888" stroke="#555" stroke-width="0.5"/>
<circle cx="286.5" cy="476.5" r="2.5" fill="#888" stroke="#555" stroke-width="0.5"/>
<rect x="253.1" y="467.4" width="17.7" height="19.1" fill="#f2f2f2" stroke="#666" stroke-width="0.8" rx="2"/>
<rect x="253.1" y="469" width="5.5" height="16" fill="#e0e0e0" stroke="#777" stroke-width="0.5" rx="1.5"/>
<line x1="258.6" y1="476.5" x2="270.8" y2="476.5" stroke="#888" stroke-width="0.5" />
<rect x="294.2" y="467.4" width="16.9" height="19.1" fill="#a4a4a4" stroke="#4a4a4a" stroke-width="0.8" rx="2"/>
<rect x="305" y="469" width="6" height="16" fill="#b8b8b8" stroke="#555" stroke-width="0.5" rx="1.5"/>
<rect x="296" y="469.5" width="9" height="15" fill="#9c9c9c" stroke="#555" stroke-width="0.5" />
<rect x="315.4" y="454" width="9.2" height="31" fill="#5a5a5a" stroke="#333" stroke-width="0.8" />
<rect x="317.5" y="457" width="5" height="8" fill="#888" stroke="none" stroke-width="0" />
<rect x="317.5" y="468" width="5" height="14" fill="#777" stroke="#444" stroke-width="0.4" />
<rect x="326.7" y="460.3" width="2.8" height="26.2" fill="#8a8a8a" stroke="#444" stroke-width="0.5" />
<circle cx="322.4" cy="492.1" r="5.5" fill="#c4c4c4" stroke="#555" stroke-width="0.9"/>
<path d="M319.09999999999997,490.45000000000005 L325.7,493.75 M319.09999999999997,493.75 L325.7,490.45000000000005" stroke="#666" stroke-width="0.6"/>
<path d="M322.4,498 L325,501 L322.4,504 L319.8,501 Z" stroke="none" stroke-width="0" fill="#444" />
<text x="305.6" y="457" font-family="Liberation Sans" font-size="8.5" fill="#555" font-weight="normal" text-anchor="middle" >6</text>
<text x="346" y="466.5" font-family="Liberation Sans" font-size="6.5" fill="#888" font-weight="normal" text-anchor="middle" >Медиа</text>
<text x="346" y="475.5" font-family="Liberation Sans" font-size="6.5" fill="#888" font-weight="normal" text-anchor="middle" >Панель</text>
<text x="346" y="483.5" font-family="Liberation Sans" font-size="4" fill="#aaa" font-weight="normal" text-anchor="middle" >(что-то)</text>
<rect x="367.5" y="306.3" width="15.3" height="29.399999999999977" fill="#b6b6b6" stroke="#4a4a4a" stroke-width="1" rx="1"/>
<rect x="373.161" y="309.8" width="9.639" height="22.399999999999977" fill="#c8c8c8" stroke="#4a4a4a" stroke-width="0.9" />
<line x1="373.161" y1="321.0" x2="382.8" y2="321.0" stroke="#4a4a4a" stroke-width="1" />
<rect x="385.6" y="306.3" width="14.6" height="29.399999999999977" fill="#a2a2a2" stroke="#4a4a4a" stroke-width="1" />
<rect x="403" y="306.3" width="14.8" height="29.399999999999977" fill="#b6b6b6" stroke="#4a4a4a" stroke-width="1" rx="1"/>
<rect x="403" y="309.8" width="9.324000000000002" height="22.399999999999977" fill="#c8c8c8" stroke="#4a4a4a" stroke-width="0.9" />
<line x1="403" y1="321.0" x2="412.324" y2="321.0" stroke="#4a4a4a" stroke-width="1" />
<rect x="442.2" y="306.3" width="15.3" height="29.399999999999977" fill="#b6b6b6" stroke="#4a4a4a" stroke-width="1" rx="1"/>
<rect x="447.861" y="309.8" width="9.639" height="22.399999999999977" fill="#c8c8c8" stroke="#4a4a4a" stroke-width="0.9" />
<line x1="447.861" y1="321.0" x2="457.5" y2="321.0" stroke="#4a4a4a" stroke-width="1" />
<rect x="460.2" y="306.3" width="14.6" height="29.399999999999977" fill="#a2a2a2" stroke="#4a4a4a" stroke-width="1" />
<rect x="477.8" y="306.3" width="15" height="29.399999999999977" fill="#b6b6b6" stroke="#4a4a4a" stroke-width="1" rx="1"/>
<rect x="477.8" y="309.8" width="9.45" height="22.399999999999977" fill="#c8c8c8" stroke="#4a4a4a" stroke-width="0.9" />
<line x1="477.8" y1="321.0" x2="487.25" y2="321.0" stroke="#4a4a4a" stroke-width="1" />
<rect x="367.5" y="365.5" width="15.3" height="29.5" fill="#b6b6b6" stroke="#4a4a4a" stroke-width="1" rx="1"/>
<rect x="373.161" y="369.0" width="9.639" height="22.5" fill="#c8c8c8" stroke="#4a4a4a" stroke-width="0.9" />
<line x1="373.161" y1="380.25" x2="382.8" y2="380.25" stroke="#4a4a4a" stroke-width="1" />
<rect x="385.6" y="365.5" width="14.6" height="29.5" fill="#a2a2a2" stroke="#4a4a4a" stroke-width="1" />
<rect x="403" y="365.5" width="14.8" height="29.5" fill="#b6b6b6" stroke="#4a4a4a" stroke-width="1" rx="1"/>
<rect x="403" y="369.0" width="9.324000000000002" height="22.5" fill="#c8c8c8" stroke="#4a4a4a" stroke-width="0.9" />
<line x1="403" y1="380.25" x2="412.324" y2="380.25" stroke="#4a4a4a" stroke-width="1" />
<rect x="442.2" y="365.5" width="15.3" height="29.5" fill="#b6b6b6" stroke="#4a4a4a" stroke-width="1" rx="1"/>
<rect x="447.861" y="369.0" width="9.639" height="22.5" fill="#c8c8c8" stroke="#4a4a4a" stroke-width="0.9" />
<line x1="447.861" y1="380.25" x2="457.5" y2="380.25" stroke="#4a4a4a" stroke-width="1" />
<rect x="460.2" y="365.5" width="14.6" height="29.5" fill="#a2a2a2" stroke="#4a4a4a" stroke-width="1" />
<rect x="477.8" y="365.5" width="15" height="29.5" fill="#b6b6b6" stroke="#4a4a4a" stroke-width="1" rx="1"/>
<rect x="477.8" y="369.0" width="9.45" height="22.5" fill="#c8c8c8" stroke="#4a4a4a" stroke-width="0.9" />
<line x1="477.8" y1="380.25" x2="487.25" y2="380.25" stroke="#4a4a4a" stroke-width="1" />
<text x="427.6" y="275" font-family="Liberation Sans" font-size="9" fill="#555" font-weight="normal" text-anchor="middle" >2</text>
<rect x="494" y="300.5" width="5.5" height="114.5" fill="#cfcfcf" stroke="#555" stroke-width="0.8" />
<rect x="499.7" y="318" width="7.3" height="87" fill="#6a6a6a" stroke="#3a3a3a" stroke-width="0.8" />
<line x1="499.7" y1="329" x2="507" y2="329" stroke="#333" stroke-width="0.7" />
<line x1="499.7" y1="340" x2="507" y2="340" stroke="#333" stroke-width="0.7" />
<line x1="499.7" y1="351" x2="507" y2="351" stroke="#333" stroke-width="0.7" />
<line x1="499.7" y1="362" x2="507" y2="362" stroke="#333" stroke-width="0.7" />
<line x1="499.7" y1="373" x2="507" y2="373" stroke="#333" stroke-width="0.7" />
<line x1="499.7" y1="384" x2="507" y2="384" stroke="#333" stroke-width="0.7" />
<line x1="499.7" y1="395" x2="507" y2="395" stroke="#333" stroke-width="0.7" />
<rect x="490.3" y="414.5" width="18" height="18" fill="#c6c6c6" stroke="#555" stroke-width="0.8" />
<path d="M490.3,432.5 L508,432.5 L508,436 L492,447 Z" stroke="#555" stroke-width="0.7" fill="#d0d0d0" />
<line x1="495" y1="437" x2="495" y2="444" stroke="#555" stroke-width="0.6" />
<line x1="500" y1="433" x2="500" y2="441" stroke="#555" stroke-width="0.6" />
<rect x="490" y="279.6" width="17" height="21" fill="#d2d2d2" stroke="#555" stroke-width="0.8" />
<rect x="480.5" y="280" width="9.5" height="19.4" fill="#d8d8d8" stroke="#555" stroke-width="0.8" />
<rect x="482.5" y="286" width="5.5" height="6" fill="#999" stroke="#444" stroke-width="0.6" />
<rect x="490.5" y="275" width="14.5" height="3.3" fill="#555" stroke="#333" stroke-width="0.5" />
<text x="497.5" y="273.5" font-family="Liberation Sans" font-size="5.3" fill="#555" font-weight="normal" text-anchor="middle" >Вади</text>
<path d="M507,281.5 L515,281.5 L527,296.5 Q533,291 534.5,282.5" stroke="#555" stroke-width="0.9" fill="none" />
<rect x="543" y="277.5" width="19" height="3.2" fill="#8a8a8a" stroke="#555" stroke-width="0.6" />
<text x="552.5" y="276" font-family="Liberation Sans" font-size="5" fill="#555" font-weight="normal" text-anchor="middle" >Кулер</text>
<ellipse cx="606.5" cy="275" rx="6" ry="4.8" fill="#4e4e4e"/>
<ellipse cx="606.5" cy="271" rx="3" ry="2.5" fill="none" stroke="#444" stroke-width="0.8"/>
<line x1="563.3" y1="283" x2="563.3" y2="327" stroke="#444" stroke-width="1.2" />
<circle cx="563.3" cy="287" r="0.9" fill="#333" stroke="none" stroke-width="0"/>
<circle cx="563.3" cy="293" r="0.9" fill="#333" stroke="none" stroke-width="0"/>
<circle cx="563.3" cy="299" r="0.9" fill="#333" stroke="none" stroke-width="0"/>
<circle cx="563.3" cy="305" r="0.9" fill="#333" stroke="none" stroke-width="0"/>
<circle cx="563.3" cy="311" r="0.9" fill="#333" stroke="none" stroke-width="0"/>
<circle cx="563.3" cy="317" r="0.9" fill="#333" stroke="none" stroke-width="0"/>
<circle cx="563.3" cy="323" r="0.9" fill="#333" stroke="none" stroke-width="0"/>
<rect x="584.5" y="285.4" width="15.5" height="33.6" fill="#5c5c5c" stroke="#333" stroke-width="0.9" />
<rect x="573.0" y="290" width="11" height="10" fill="#9a9a9a" stroke="#444" stroke-width="0.8" rx="1"/>
<rect x="575.5" y="291.7" width="6.5" height="6.6" fill="#d4d4d4" stroke="#555" stroke-width="0.5" />
<rect x="573.0" y="304.3" width="11" height="10" fill="#9a9a9a" stroke="#444" stroke-width="0.8" rx="1"/>
<rect x="575.5" y="306.0" width="6.5" height="6.6" fill="#d4d4d4" stroke="#555" stroke-width="0.5" />
<rect x="600.3" y="290" width="11" height="10" fill="#9a9a9a" stroke="#444" stroke-width="0.8" rx="1"/>
<rect x="602.3" y="291.7" width="6.5" height="6.6" fill="#d4d4d4" stroke="#555" stroke-width="0.5" />
<rect x="600.3" y="304.3" width="11" height="10" fill="#9a9a9a" stroke="#444" stroke-width="0.8" rx="1"/>
<rect x="602.3" y="306.0" width="6.5" height="6.6" fill="#d4d4d4" stroke="#555" stroke-width="0.5" />
<text x="541" y="318" font-family="Liberation Sans" font-size="9" fill="#555" font-weight="normal" text-anchor="middle" >3</text>
<rect x="527.3" y="345.4" width="15.7" height="30" fill="#cfcfcf" stroke="#555" stroke-width="0.8" />
<text x="534.5" y="355" font-family="Liberation Sans" font-size="5.5" fill="#222" font-weight="normal" text-anchor="middle" dominant-baseline="central" transform="rotate(90 534.5 355)">ГЧК</text>
<g transform="rotate(-40 535.5 369)"><rect x="531" y="367" width="9" height="4.5" rx="1" fill="#333"/></g>
<rect x="514.4" y="351.4" width="12" height="10.6" fill="#dcdcdc" stroke="#555" stroke-width="0.8" rx="1.5"/>
<rect x="517" y="353.5" width="7" height="7" fill="#f2f2f2" stroke="#666" stroke-width="0.5" />
<rect x="512.3" y="366.4" width="15" height="9" fill="#c8c8c8" stroke="#555" stroke-width="0.8" />
<rect x="515" y="368.5" width="6" height="5" fill="#888" stroke="#444" stroke-width="0.5" />
<g transform="rotate(-18 552.2 348.7)"><rect x="546" y="343" width="12.5" height="11.5" rx="1.5" fill="#9c9c9c" stroke="#444" stroke-width="0.8"/><rect x="548.5" y="345.5" width="7.5" height="7" fill="#d0d0d0" stroke="#555" stroke-width="0.5"/></g>
<rect x="546" y="361" width="13.5" height="11.4" fill="#9c9c9c" stroke="#444" stroke-width="0.8" rx="1.5"/>
<rect x="548.5" y="363.5" width="8.5" height="7" fill="#d0d0d0" stroke="#555" stroke-width="0.5" />
<circle cx="569.2" cy="357.4" r="4.5" fill="#c8c8c8" stroke="#666" stroke-width="0.7"/>
<g transform="rotate(-47 576 364.5)"><rect x="571.5" y="362.3" width="9" height="4.5" fill="#c8c8c8" stroke="#333" stroke-width="0.9"/></g>
<rect x="362" y="211" width="31" height="4" fill="#c4c4c4" stroke="#555" stroke-width="0.8" />
<circle cx="372.5" cy="222.5" r="4.8" fill="#5e5e5e" stroke="#3a3a3a" stroke-width="0.9"/>
<circle cx="386" cy="222.5" r="4.8" fill="#959595" stroke="#444" stroke-width="0.9"/>
<text x="379" y="235" font-family="Liberation Sans" font-size="5.5" fill="#888" font-weight="normal" text-anchor="middle" >Детский</text>
<text x="379" y="243" font-family="Liberation Sans" font-size="5.5" fill="#888" font-weight="normal" text-anchor="middle" >уголок</text>
<rect x="395" y="210" width="3.5" height="31" fill="#d0d0d0" stroke="#555" stroke-width="0.7" />
<rect x="451.6" y="210" width="3.5" height="31" fill="#d0d0d0" stroke="#555" stroke-width="0.7" />
<rect x="400" y="211.5" width="15" height="29" fill="#b6b6b6" stroke="#4a4a4a" stroke-width="1" rx="1"/>
<rect x="404.5" y="214.5" width="10.5" height="23" fill="#c8c8c8" stroke="#4a4a4a" stroke-width="0.9" />
<line x1="404.5" y1="226.0" x2="415.0" y2="226.0" stroke="#4a4a4a" stroke-width="1" />
<rect x="416.5" y="212" width="16.5" height="29" fill="#777" stroke="#444" stroke-width="0.9" />
<rect x="435" y="211.5" width="15" height="29" fill="#b6b6b6" stroke="#4a4a4a" stroke-width="1" rx="1"/>
<rect x="435" y="214.5" width="10.5" height="23" fill="#c8c8c8" stroke="#4a4a4a" stroke-width="0.9" />
<line x1="435" y1="226.0" x2="445.5" y2="226.0" stroke="#4a4a4a" stroke-width="1" />
<rect x="466.9" y="210.6" width="33.8" height="16.3" fill="#6e6e6e" stroke="#3a3a3a" stroke-width="1" />
<rect x="468.9" y="215.6" width="29.799999999999997" height="11.3" fill="#777" stroke="#3a3a3a" stroke-width="0.8" />
<line x1="483.79999999999995" y1="215.6" x2="483.79999999999995" y2="226.9" stroke="#3a3a3a" stroke-width="0.8" />
<rect x="500.7" y="210.6" width="34" height="16.3" fill="#6e6e6e" stroke="#3a3a3a" stroke-width="1" />
<rect x="502.7" y="215.6" width="30" height="11.3" fill="#777" stroke="#3a3a3a" stroke-width="0.8" />
<line x1="517.7" y1="215.6" x2="517.7" y2="226.9" stroke="#3a3a3a" stroke-width="0.8" />
<rect x="543.4" y="210.6" width="33" height="6.3" fill="#f0f0f0" stroke="#555" stroke-width="0.8" />
<path d="M553,208 L563,208 L561,216 L555,216 Z" stroke="none" stroke-width="0" fill="#4a4a4a" />
<rect x="556.2" y="218.3" width="8.7" height="10.1" fill="#9c9c9c" stroke="#555" stroke-width="0.7" />
<text x="557" y="222" font-family="Liberation Sans" font-size="5" fill="#999" font-weight="normal" text-anchor="middle" >Самообслуж</text>
<ellipse cx="600" cy="218.5" rx="5.5" ry="5" fill="#5a5a5a"/>
<ellipse cx="598" cy="216" rx="2.5" ry="2" fill="#888"/>
<rect x="588.9" y="224" width="31.7" height="13.5" fill="#f6f6f6" stroke="#444" stroke-width="0.8" />
<rect x="594" y="227" width="12" height="4.5" fill="#777" stroke="#333" stroke-width="0.5" />
<line x1="595" y1="229" x2="605" y2="229" stroke="#eee" stroke-width="0.6" />
<path d="M603,236 Q610,232 617,233" stroke="#333" stroke-width="1.6" fill="none" />
<rect x="589.5" y="238" width="28" height="2" fill="#eee" stroke="#bbb" stroke-width="0.4" />
<g transform="rotate(32 379.2 455)"><rect x="372.4" y="448.2" width="13.6" height="13.6" rx="2.5" fill="#ececec" stroke="#555" stroke-width="0.9"/><g transform="rotate(0 379.2 455)"><rect x="388.4" y="447.5" width="12" height="15" rx="2" fill="#a8a8a8" stroke="#4a4a4a" stroke-width="0.9"/><rect x="389.9" y="450" width="7" height="10" fill="#c2c2c2" stroke="#555" stroke-width="0.6"/></g><g transform="rotate(90 379.2 455)"><rect x="388.4" y="447.5" width="12" height="15" rx="2" fill="#a8a8a8" stroke="#4a4a4a" stroke-width="0.9"/><rect x="389.9" y="450" width="7" height="10" fill="#c2c2c2" stroke="#555" stroke-width="0.6"/></g><g transform="rotate(180 379.2 455)"><rect x="388.4" y="447.5" width="12" height="15" rx="2" fill="#a8a8a8" stroke="#4a4a4a" stroke-width="0.9"/><rect x="389.9" y="450" width="7" height="10" fill="#c2c2c2" stroke="#555" stroke-width="0.6"/></g><g transform="rotate(270 379.2 455)"><rect x="388.4" y="447.5" width="12" height="15" rx="2" fill="#a8a8a8" stroke="#4a4a4a" stroke-width="0.9"/><rect x="389.9" y="450" width="7" height="10" fill="#c2c2c2" stroke="#555" stroke-width="0.6"/></g></g>
<g transform="rotate(20 447.9 435.4)"><rect x="441.09999999999997" y="428.59999999999997" width="13.6" height="13.6" rx="2.5" fill="#ececec" stroke="#555" stroke-width="0.9"/><g transform="rotate(0 447.9 435.4)"><rect x="456.5" y="427.9" width="12" height="15" rx="2" fill="#a8a8a8" stroke="#4a4a4a" stroke-width="0.9"/><rect x="458.0" y="430.4" width="7" height="10" fill="#c2c2c2" stroke="#555" stroke-width="0.6"/></g><g transform="rotate(90 447.9 435.4)"><rect x="456.5" y="427.9" width="12" height="15" rx="2" fill="#a8a8a8" stroke="#4a4a4a" stroke-width="0.9"/><rect x="458.0" y="430.4" width="7" height="10" fill="#c2c2c2" stroke="#555" stroke-width="0.6"/></g><g transform="rotate(180 447.9 435.4)"><rect x="456.5" y="427.9" width="12" height="15" rx="2" fill="#a8a8a8" stroke="#4a4a4a" stroke-width="0.9"/><rect x="458.0" y="430.4" width="7" height="10" fill="#c2c2c2" stroke="#555" stroke-width="0.6"/></g><g transform="rotate(270 447.9 435.4)"><rect x="456.5" y="427.9" width="12" height="15" rx="2" fill="#a8a8a8" stroke="#4a4a4a" stroke-width="0.9"/><rect x="458.0" y="430.4" width="7" height="10" fill="#c2c2c2" stroke="#555" stroke-width="0.6"/></g></g>
<rect x="402.6" y="468.4" width="13" height="16.6" fill="#c2c2c2" stroke="#555" stroke-width="0.8" />
<line x1="402.6" y1="472" x2="415.6" y2="472" stroke="#aaa" stroke-width="0.4" />
<line x1="402.6" y1="476" x2="415.6" y2="476" stroke="#aaa" stroke-width="0.4" />
<line x1="402.6" y1="480" x2="415.6" y2="480" stroke="#aaa" stroke-width="0.4" />
<line x1="406" y1="468.4" x2="406" y2="485" stroke="#aaa" stroke-width="0.4" />
<line x1="409" y1="468.4" x2="409" y2="485" stroke="#aaa" stroke-width="0.4" />
<line x1="412" y1="468.4" x2="412" y2="485" stroke="#aaa" stroke-width="0.4" />
<path d="M402.6,485 L415.6,485 L414,488 L404,488 Z" stroke="none" stroke-width="0" fill="#666" />
<rect x="706.1" y="355.8" width="130.5" height="201.99999999999994" fill="#fff" stroke="#3c3c3c" stroke-width="1.1" />
<line x1="723.6" y1="355.8" x2="723.6" y2="557.8" stroke="#3c3c3c" stroke-width="1.1" />
<line x1="706.1" y1="380.2" x2="836.6" y2="380.2" stroke="#3c3c3c" stroke-width="1.1" />
<line x1="706.1" y1="390.65" x2="836.6" y2="390.65" stroke="#3c3c3c" stroke-width="1.1" />
<line x1="706.1" y1="401.09" x2="836.6" y2="401.09" stroke="#3c3c3c" stroke-width="1.1" />
<line x1="706.1" y1="411.54" x2="836.6" y2="411.54" stroke="#3c3c3c" stroke-width="1.1" />
<line x1="706.1" y1="421.99" x2="836.6" y2="421.99" stroke="#3c3c3c" stroke-width="1.1" />
<line x1="706.1" y1="432.44" x2="836.6" y2="432.44" stroke="#3c3c3c" stroke-width="1.1" />
<line x1="706.1" y1="442.88" x2="836.6" y2="442.88" stroke="#3c3c3c" stroke-width="1.1" />
<line x1="706.1" y1="453.33" x2="836.6" y2="453.33" stroke="#3c3c3c" stroke-width="1.1" />
<line x1="706.1" y1="463.78" x2="836.6" y2="463.78" stroke="#3c3c3c" stroke-width="1.1" />
<line x1="706.1" y1="474.22" x2="836.6" y2="474.22" stroke="#3c3c3c" stroke-width="1.1" />
<line x1="706.1" y1="484.67" x2="836.6" y2="484.67" stroke="#3c3c3c" stroke-width="1.1" />
<line x1="706.1" y1="495.12" x2="836.6" y2="495.12" stroke="#3c3c3c" stroke-width="1.1" />
<line x1="706.1" y1="505.56" x2="836.6" y2="505.56" stroke="#3c3c3c" stroke-width="1.1" />
<line x1="706.1" y1="516.01" x2="836.6" y2="516.01" stroke="#3c3c3c" stroke-width="1.1" />
<line x1="706.1" y1="526.46" x2="836.6" y2="526.46" stroke="#3c3c3c" stroke-width="1.1" />
<line x1="706.1" y1="536.9" x2="836.6" y2="536.9" stroke="#3c3c3c" stroke-width="1.1" />
<line x1="706.1" y1="547.35" x2="836.6" y2="547.35" stroke="#3c3c3c" stroke-width="1.1" />
<text x="714.8" y="366.5" font-family="Liberation Sans" font-size="8" fill="#444" font-weight="normal" text-anchor="middle" >№</text>
<text x="714.8" y="377.2" font-family="Liberation Sans" font-size="8" fill="#444" font-weight="normal" text-anchor="middle" >п/п</text>
<text x="780" y="371.3" font-family="Liberation Sans" font-size="8" fill="#444" font-weight="normal" text-anchor="middle" >Наименование</text>
<text x="714.5" y="388.42499999999995" font-family="Liberation Sans" font-size="8" fill="#3a3a3a" font-weight="normal" text-anchor="middle" >1</text>
<text x="725.5" y="388.42499999999995" font-family="Liberation Sans" font-size="8" fill="#3a3a3a" font-weight="normal" text-anchor="start" >Тамбур (Зона 24 х 7)</text>
<text x="714.5" y="398.87" font-family="Liberation Sans" font-size="8" fill="#3a3a3a" font-weight="normal" text-anchor="middle" >2</text>
<text x="725.5" y="398.87" font-family="Liberation Sans" font-size="8" fill="#3a3a3a" font-weight="normal" text-anchor="start" >Операционный зал</text>
<text x="714.5" y="409.315" font-family="Liberation Sans" font-size="8" fill="#3a3a3a" font-weight="normal" text-anchor="middle" >3</text>
<text x="725.5" y="409.315" font-family="Liberation Sans" font-size="8" fill="#3a3a3a" font-weight="normal" text-anchor="start" >Кабинет ГЧК</text>
<text x="714.5" y="419.765" font-family="Liberation Sans" font-size="8" fill="#3a3a3a" font-weight="normal" text-anchor="middle" >4</text>
<text x="725.5" y="419.765" font-family="Liberation Sans" font-size="8" fill="#3a3a3a" font-weight="normal" text-anchor="start" >Переговорная комната</text>
<text x="714.5" y="430.21500000000003" font-family="Liberation Sans" font-size="8" fill="#3a3a3a" font-weight="normal" text-anchor="middle" >5</text>
<text x="725.5" y="430.21500000000003" font-family="Liberation Sans" font-size="8" fill="#3a3a3a" font-weight="normal" text-anchor="start" >Кабинет руководителя</text>
<text x="714.5" y="440.65999999999997" font-family="Liberation Sans" font-size="8" fill="#3a3a3a" font-weight="normal" text-anchor="middle" >6</text>
<text x="725.5" y="440.65999999999997" font-family="Liberation Sans" font-size="8" fill="#3a3a3a" font-weight="normal" text-anchor="start" >Кабинет ОРС</text>
<text x="714.5" y="451.105" font-family="Liberation Sans" font-size="8" fill="#3a3a3a" font-weight="normal" text-anchor="middle" >7</text>
<text x="725.5" y="451.105" font-family="Liberation Sans" font-size="8" fill="#3a3a3a" font-weight="normal" text-anchor="start" >Касса на 2 рабочих места</text>
<text x="714.5" y="461.55499999999995" font-family="Liberation Sans" font-size="8" fill="#3a3a3a" font-weight="normal" text-anchor="middle" >8</text>
<text x="725.5" y="461.55499999999995" font-family="Liberation Sans" font-size="8" fill="#3a3a3a" font-weight="normal" text-anchor="start" >Клиентская кабина</text>
<text x="714.5" y="472.0" font-family="Liberation Sans" font-size="8" fill="#3a3a3a" font-weight="normal" text-anchor="middle" >9</text>
<text x="725.5" y="472.0" font-family="Liberation Sans" font-size="8" fill="#3a3a3a" font-weight="normal" text-anchor="start" >Клиентская кабина</text>
<text x="714.5" y="482.44500000000005" font-family="Liberation Sans" font-size="8" fill="#3a3a3a" font-weight="normal" text-anchor="middle" >10</text>
<text x="725.5" y="482.44500000000005" font-family="Liberation Sans" font-size="8" fill="#3a3a3a" font-weight="normal" text-anchor="start" >Кабинет</text>
<text x="714.5" y="492.895" font-family="Liberation Sans" font-size="8" fill="#3a3a3a" font-weight="normal" text-anchor="middle" >11</text>
<text x="725.5" y="492.895" font-family="Liberation Sans" font-size="8" fill="#3a3a3a" font-weight="normal" text-anchor="start" >Кабинет СЭБ</text>
<text x="714.5" y="503.34000000000003" font-family="Liberation Sans" font-size="8" fill="#3a3a3a" font-weight="normal" text-anchor="middle" >12</text>
<text x="725.5" y="503.34000000000003" font-family="Liberation Sans" font-size="8" fill="#3a3a3a" font-weight="normal" text-anchor="start" >Комната персонала</text>
<text x="714.5" y="513.785" font-family="Liberation Sans" font-size="8" fill="#3a3a3a" font-weight="normal" text-anchor="middle" >13</text>
<text x="725.5" y="513.785" font-family="Liberation Sans" font-size="8" fill="#3a3a3a" font-weight="normal" text-anchor="start" >Серверная</text>
<text x="714.5" y="524.235" font-family="Liberation Sans" font-size="8" fill="#3a3a3a" font-weight="normal" text-anchor="middle" >14</text>
<text x="725.5" y="524.235" font-family="Liberation Sans" font-size="8" fill="#3a3a3a" font-weight="normal" text-anchor="start" >Техническое помещ. ОТиПС</text>
<text x="714.5" y="534.6800000000001" font-family="Liberation Sans" font-size="8" fill="#3a3a3a" font-weight="normal" text-anchor="middle" >15</text>
<text x="725.5" y="534.6800000000001" font-family="Liberation Sans" font-size="8" fill="#3a3a3a" font-weight="normal" text-anchor="start" >Электрощитовая</text>
<text x="714.5" y="545.125" font-family="Liberation Sans" font-size="8" fill="#3a3a3a" font-weight="normal" text-anchor="middle" >16</text>
<text x="725.5" y="545.125" font-family="Liberation Sans" font-size="8" fill="#3a3a3a" font-weight="normal" text-anchor="start" >Коридор</text>
<text x="714.5" y="555.575" font-family="Liberation Sans" font-size="8" fill="#3a3a3a" font-weight="normal" text-anchor="middle" >17</text>
<text x="725.5" y="555.575" font-family="Liberation Sans" font-size="8" fill="#3a3a3a" font-weight="normal" text-anchor="start" >Техническое помещение</text>
</g>
</svg>
</body></html>
